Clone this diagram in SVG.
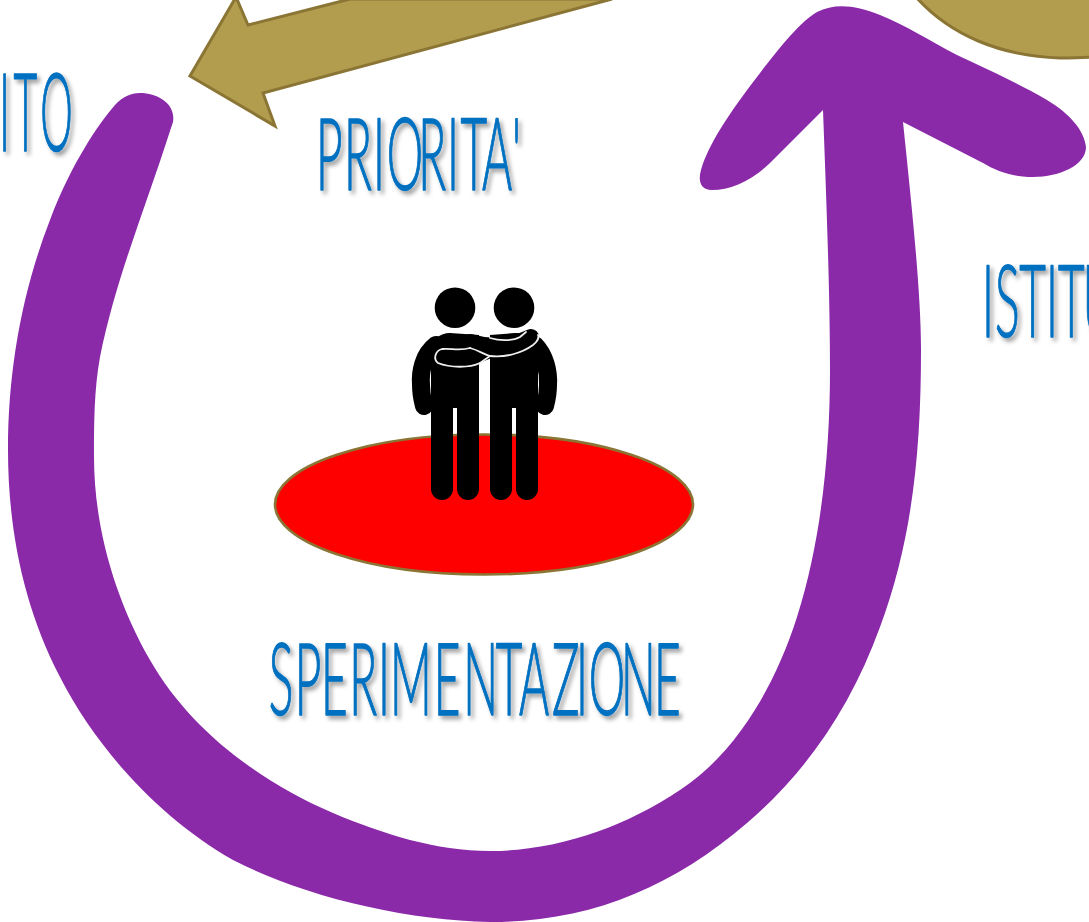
<svg xmlns="http://www.w3.org/2000/svg" width="1089" height="922" viewBox="0 0 1089 922">
<style>
.lab{font-family:"Lato","Liberation Sans",sans-serif;font-weight:300;font-size:100px;fill:#0070C0;stroke:#0070C0;stroke-width:1.5px;stroke-linejoin:round}
.gold{fill:#B29D4E;stroke:#8A7535;stroke-width:3;stroke-linejoin:miter}
.blk{fill:#000;stroke:none}
.arm{fill:none;stroke:#000;stroke-linecap:round;stroke-linejoin:round}
.hl{fill:none;stroke:#EFEFEF;stroke-width:1.8;stroke-linecap:round;stroke-linejoin:round}
</style>
<defs>
<filter id="sh" x="-5%" y="-5%" width="110%" height="110%"><feDropShadow dx="3" dy="3.5" stdDeviation="2" flood-color="#000" flood-opacity=".38"/></filter>
<filter id="soft" x="-2%" y="-2%" width="104%" height="104%"><feGaussianBlur stdDeviation=".6"/></filter>
</defs>
<rect width="1089" height="922" fill="#fff"/>
<g id="connectors">
<path id="gold-arrow" class="gold" d="M612 -1L263 93L275 126L190 76L236 -3L248 25L350 -1Z"/>
<path id="purple-arrow" fill="#8A29A9" filter="url(#soft)" d="M171 128C147 204 116 277 100 357C94 390 94 424 94 457C94 527 115 599 150 660C190 730 259 781 333 813C383 834 436 851 490 851C557 851 625 827 680 790C738 752 776 683 797 617C822 538 830 450 830 370C830 290 826 190 823 110L770 163C750 182 730 190 712 190C700 190 698 180 701 170C708 145 730 112 757 77C780 47 800 22 817 12C835 3 855 5 880 15C905 25 930 41 957 55C985 68 1020 84 1047 100C1070 114 1084 130 1086 147C1086 165 1060 177 1033 177C1010 177 995 170 983 163L903 122C911 200 921 290 921 350C921 450 912.500 540 880 627C852 704 809 770 747 823C671 888 590 922 490 922C405 920 305 897 233 860C161 819 98 751 60 677C24 608 8 530 8 450C8 370 22 292 50 220C72 162 100 122 115 105C122 97 131 93 140 93C158 93 176 104 173 122Z"/>
<path id="gold-circle" class="gold" d="M916 -3C950 35 1000 56 1060 58C1070 58 1080 58 1092 57L1092 -3Z"/>
</g>
<g id="platform"><ellipse cx="484" cy="504.500" rx="209" ry="70" fill="#F00" stroke="#8A7535" stroke-width="2.600"/></g>
<g id="people">
<circle class="blk" cx="455" cy="307.700" r="20.300"/>
<circle class="blk" cx="514" cy="307.700" r="20.300"/>
<path class="blk" d="M431 350C431 340 440 333 450 333L479 335V489A11 11 0 0 1 457 489V408H453V489A11 11 0 0 1 431 489Z"/>
<path class="blk" d="M490 335L515 333C530 333 538 342 538 352V489A11 11 0 0 1 516 489V408H512V489A11 11 0 0 1 490 489Z"/>
<path class="arm" stroke-width="18" d="M436 345C423 355 420 372 421 385C421 395 423 402 424 406"/>
<path class="arm" stroke-width="18" d="M535 345C545 355 549 372 548 385C548 395 546 402 545 406"/>
<path class="arm" stroke-width="16" d="M470 342C490 348 510 347 531 337"/>
<path class="arm" stroke-width="16" d="M445 356C460 359 475 357 490 350"/>
<path class="hl" d="M470 348C478 350 483 354 490 356C505 358 522 353 533 345C538 341 539 337 538 335"/>
<path class="hl" d="M490 338C500 341 513 341 520 337L526 332"/>
<path class="hl" d="M470 348C460 351 450 348 442 349C435 351 433 359 438 363C450 368 470 368 480 363L490 356"/>
</g>
<g id="labels" filter="url(#sh)">
<text class="lab" transform="translate(0,151) scale(.41,1.09)" x="-2 33 98" y="0">ITO</text>
<text class="lab" transform="translate(0,190) scale(.46,1)" x="687 748 811 841 909 972 1001 1048 1113" y="0">PRIORITA'</text>
<text class="lab" transform="translate(0,337) scale(.46,1)" x="2135 2163 2216 2274 2300 2354" y="0">ISTITU</text>
<text class="lab" transform="translate(0,715) scale(.46,1)" x="584 641 698 759 822 848 943 1007 1078 1128 1200 1252 1280 1350 1422" y="0">SPERIMENTAZIONE</text>
</g>
</svg>
